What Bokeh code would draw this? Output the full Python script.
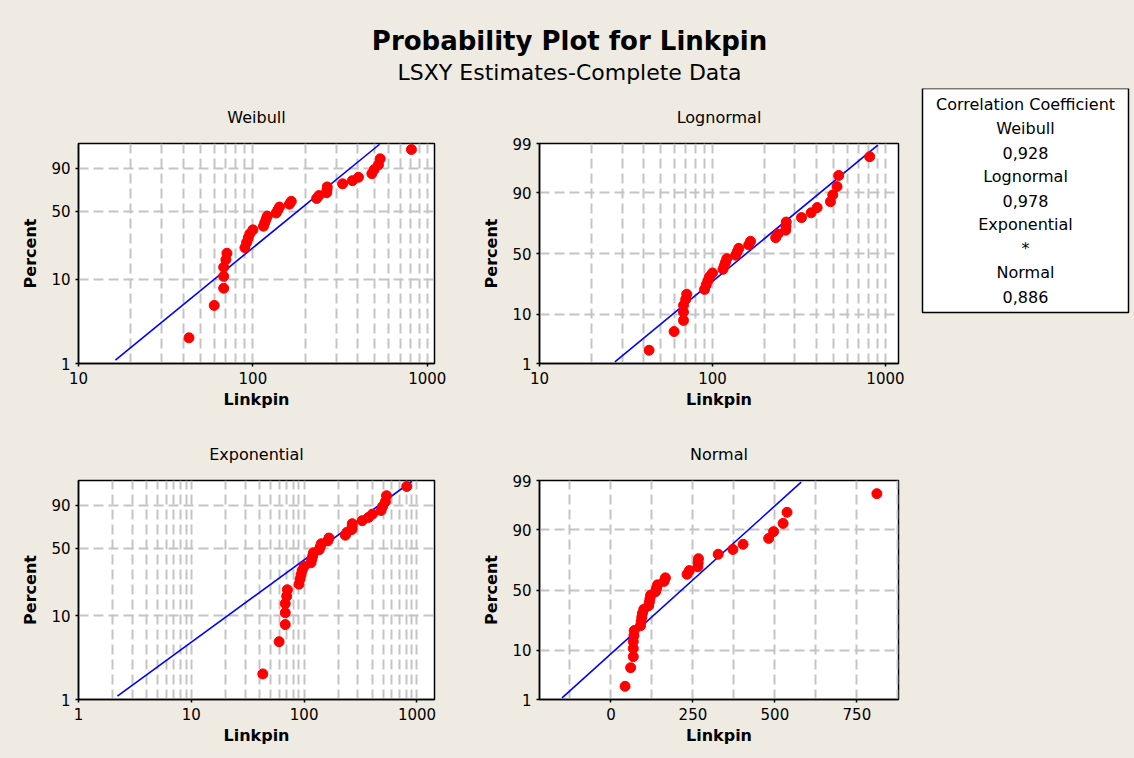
import math
from statistics import NormalDist
from bokeh.plotting import figure
from bokeh.layouts import column, row
from bokeh.models import Range1d, FixedTicker, PrintfTickFormatter
from bokeh.core.properties import value
from bokeh.embed import file_html
from bokeh.resources import INLINE

# ---------------- data ----------------
linkpin = [43, 60, 68, 68, 68, 70, 71, 90, 92, 94, 96, 100, 115, 117, 119, 121,
           136, 139, 142, 162, 166, 232, 239, 265, 266, 267, 327, 372, 403,
           481, 496, 525, 537, 811]

# fitted (LSXY) distribution parameters
weibull_shape = 1.723
weibull_scale = 222.3
lognormal_median = 157.0
lognormal_sigma = 0.764
exponential_mean = 200.0
normal_mean = 215.5
normal_sd = 159.2
fit_percent_span = [1.1, 98.9]

percent_ticks_sev = [1, 10, 50, 90]
percent_ticks_norm = [1, 10, 50, 90, 99]
percent_grid = [10, 50, 90]
log_ticks = [1, 10, 100, 1000]
normal_ticks = [0, 250, 500, 750]
normal_grid = [-125, 0, 125, 250, 375, 500, 625, 750, 875]

corr_title = "Correlation Coefficient"
corr_labels = ["Weibull", "Lognormal", "Exponential", "Normal"]
corr_values = ["0,928", "0,978", "*", "0,886"]

title_text = "Probability Plot for Linkpin"
subtitle_text = "LSXY Estimates-Complete Data"

# ---------------- helpers ----------------
BG = "#EFEBE2"
FONT = "DejaVu Sans"
GRID = "#C4C4C4"
ND = NormalDist()

n = len(linkpin)
xs_sorted = sorted(linkpin)
median_rank = [(i + 1 - 0.3) / (n + 0.4) for i in range(n)]


def sev(p):
    return math.log(-math.log(1.0 - p))


def nrm(p):
    return ND.inv_cdf(p)


def log_grid(lo, hi):
    out = []
    k = 0
    while 10 ** k <= hi:
        for m in range(1, 10):
            v = m * 10 ** k
            if lo < v <= hi:
                out.append(v)
        k += 1
    return out


def panel(title, width, height, borders, x_type, x_range, x_ticks, x_grid,
          y_fn, y_ticks, line_x_fn):
    l, r, t, b = borders
    p = figure(width=width, height=height, x_axis_type=x_type,
               x_range=Range1d(*x_range),
               y_range=Range1d(y_fn(0.01), y_fn(0.99)),
               output_backend="svg", toolbar_location=None,
               min_border_left=l, min_border_right=r,
               min_border_top=t, min_border_bottom=b)
    p.background_fill_color = "white"
    p.border_fill_color = BG
    p.outline_line_color = "black"
    p.outline_line_width = 1.5

    p.title.text = title
    p.title.align = "center"
    p.title.text_font = FONT
    p.title.text_font_size = "16px"
    p.title.text_font_style = "normal"
    p.title.text_color = "black"
    p.title.standoff = 34

    # axes
    p.xaxis.ticker = FixedTicker(ticks=x_ticks)
    if x_type == "log":
        p.xaxis.formatter = PrintfTickFormatter(format="%d")
    ytick_pos = [y_fn(v / 100.0) for v in y_ticks]
    p.yaxis.ticker = FixedTicker(ticks=ytick_pos)
    p.yaxis.major_label_overrides = {pos: str(v) for pos, v in zip(ytick_pos, y_ticks)}
    for ax in (p.xaxis[0], p.yaxis[0]):
        ax.axis_line_color = "black"
        ax.axis_line_width = 1.5
        ax.major_tick_line_color = "black"
        ax.major_tick_line_width = 1.5
        ax.major_tick_out = 3
        ax.major_tick_in = 0
        ax.minor_tick_line_color = None
        ax.major_label_text_font = FONT
        ax.major_label_text_font_size = "15px"
        ax.major_label_text_color = "black"
        ax.axis_label_text_font = FONT
        ax.axis_label_text_font_size = "16px"
        ax.axis_label_text_font_style = "bold"
        ax.axis_label_text_color = "black"
        ax.major_label_standoff = 5
        ax.axis_label_standoff = 8
    p.xaxis.axis_label_standoff = 3
    p.xaxis.axis_label = "Linkpin"
    p.yaxis.axis_label = "Percent"

    # grids
    p.xgrid.ticker = FixedTicker(ticks=x_grid)
    p.ygrid.ticker = FixedTicker(ticks=[y_fn(v / 100.0) for v in percent_grid])
    for g in (p.xgrid[0], p.ygrid[0]):
        g.grid_line_color = GRID
        g.grid_line_width = 2
        g.grid_line_dash = "10 5"

    # fitted line
    ps = [v / 100.0 for v in fit_percent_span]
    p.line(x=[line_x_fn(q) for q in ps], y=[y_fn(q) for q in ps],
           line_color="#0000FF", line_width=1.6)
    # points
    p.scatter(x=xs_sorted, y=[y_fn(q) for q in median_rank], size=10,
              fill_color="#FF0000", line_color="#FF0000")
    return p


def weib_x(q):
    return weibull_scale * (-math.log(1 - q)) ** (1.0 / weibull_shape)


def logn_x(q):
    return math.exp(math.log(lognormal_median) + lognormal_sigma * nrm(q))


def expo_x(q):
    return exponential_mean * (-math.log(1 - q))


def norm_x(q):
    return normal_mean + normal_sd * nrm(q)


LW, RW, GW = 478, 440, 216
HH = 88
TH, BH = 335, 335

wb = panel("Weibull", LW, TH, (78, 44, 55, 60), "log", (10, 1100),
           log_ticks[1:], log_grid(10, 1100), sev, percent_ticks_sev, weib_x)
ex = panel("Exponential", LW, BH, (78, 44, 57, 59), "log", (1, 1430),
           log_ticks, log_grid(1, 1430), sev, percent_ticks_sev, expo_x)
ln = panel("Lognormal", RW, TH, (61, 20, 55, 60), "log", (10, 1190),
           log_ticks[1:], log_grid(10, 1190), nrm, percent_ticks_norm, logn_x)
nm = panel("Normal", RW, BH, (61, 20, 57, 59), "linear", (-218, 877),
           normal_ticks, normal_grid, nrm, percent_ticks_norm, norm_x)

# header
HW = LW + RW + GW
hd = figure(width=HW, height=HH, x_range=Range1d(0, HW), y_range=Range1d(HH, 0),
            output_backend="svg", toolbar_location=None,
            x_axis_location=None, y_axis_location=None, min_border=0)
hd.grid.visible = False
hd.outline_line_color = None
hd.background_fill_color = BG
hd.border_fill_color = BG
hd.text(x=[569], y=[40], text=[title_text], text_align="center",
        text_baseline="middle", text_font=value(FONT), text_font_size="26px",
        text_font_style="bold", text_color="black")
hd.text(x=[569], y=[72], text=[subtitle_text], text_align="center",
        text_baseline="middle", text_font=value(FONT), text_font_size="22px",
        text_color="black")

# correlation box
GH = TH + BH
lg = figure(width=GW, height=GH, x_range=Range1d(0, GW), y_range=Range1d(GH, 0),
            output_backend="svg", toolbar_location=None,
            x_axis_location=None, y_axis_location=None, min_border=0)
lg.grid.visible = False
lg.outline_line_color = None
lg.background_fill_color = BG
lg.border_fill_color = BG
lg.quad(left=[4], right=[210], top=[0], bottom=[224], fill_color="white",
        line_color="black", line_width=1.5)
lines = [corr_title]
for lab, val in zip(corr_labels, corr_values):
    lines += [lab, val]
lg.text(x=[107] * len(lines), y=[16 + 24 * i for i in range(len(lines))],
        text=lines, text_align="center", text_baseline="middle",
        text_font=value(FONT), text_font_size="16px", text_color="black")

layout = column(hd, row(column(wb, ex), column(ln, nm), lg))

html = file_html(layout, INLINE)
html = html.replace("<head>", "<head><style>body{background:%s;}</style>" % BG, 1)
open("out.html", "w").write(html)
